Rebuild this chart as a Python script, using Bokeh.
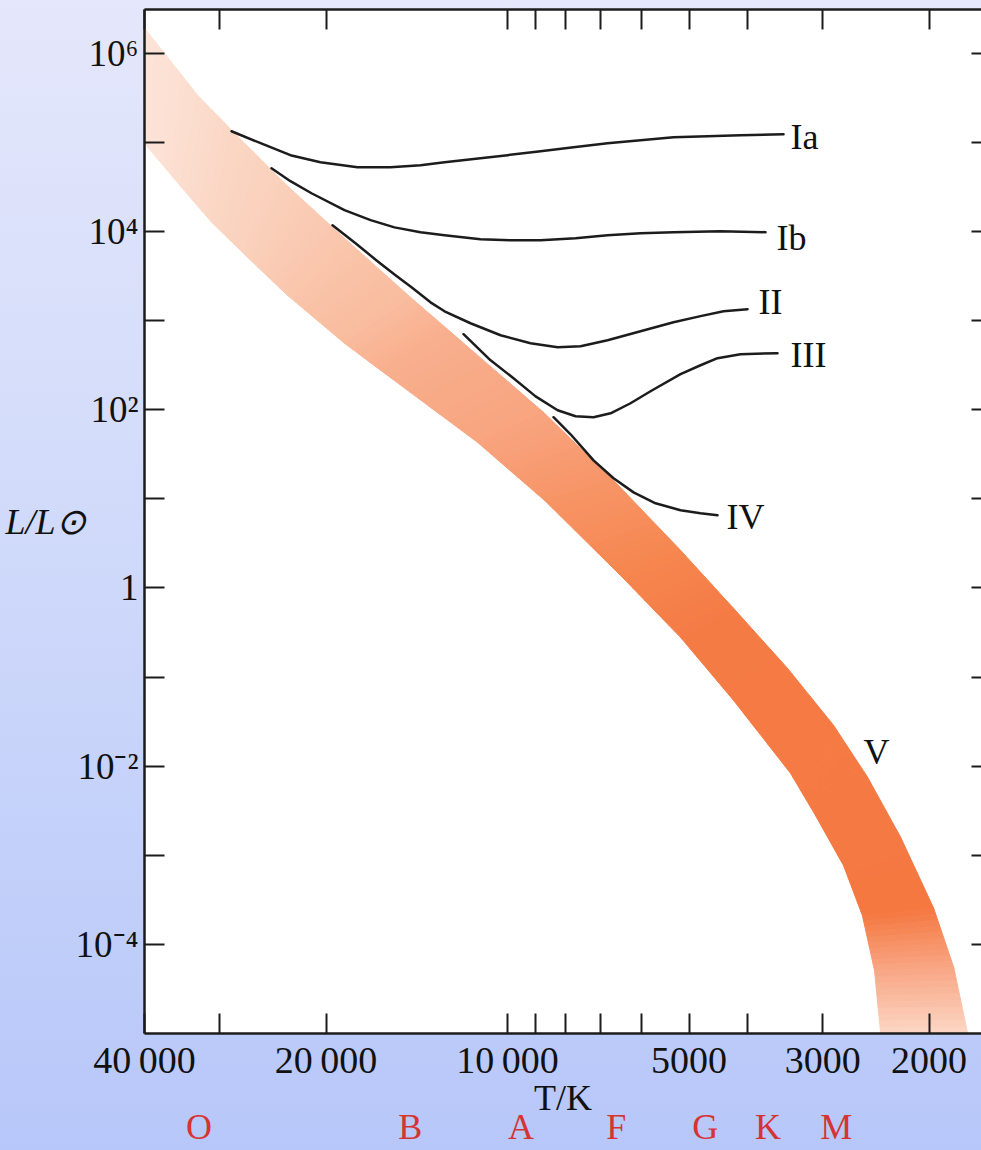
from bokeh.plotting import figure
from bokeh.models import LogAxis, FixedTicker, Label, Range1d, GlobalInlineStyleSheet
from bokeh.embed import file_html
from bokeh.resources import INLINE

# ---------------- data ----------------
# Main sequence (class V) band: cross-sections, upper and lower edge
band_upper_T = [40000, 32670, 28690, 23430, 18640, 14430, 12580, 8720, 6672, 5166,
                4220, 3433, 2880, 2529, 2229, 1965, 1820, 1726]
band_upper_L = [1.91e6, 3.38e5, 1.37e5, 3.48e4, 8.39e3, 1.78e3, 798, 93.5, 16.1, 2.64,
                0.59, 0.125, 0.0287, 0.0075, 0.00159, 2.54e-4, 5.5e-5, 1.0e-5]
band_lower_T = [40000, 34860, 30960, 26680, 23170, 18640, 16240, 11220, 8685, 6495,
                5166, 4220, 3393, 3086, 2773, 2579, 2463, 2406]
band_lower_L = [9.77e4, 3.22e4, 1.27e4, 4.75e3, 1.92e3, 556, 277, 43.1, 9.62, 1.38,
                0.279, 0.0548, 0.0083, 0.0028, 7.7e-4, 2.1e-4, 5.1e-5, 1.0e-5]

# Luminosity classes
Ia_T = [28690, 25680, 22910, 20430, 17740, 15640, 13940, 12720, 11090, 10000, 8815,
        7772, 6826, 6018, 5306, 4660, 4109, 3486]
Ia_L = [1.33e5, 9.77e4, 7.17e4, 5.98e4, 5.25e4, 5.25e4, 5.53e4, 5.98e4, 6.63e4, 7.17e4,
        7.95e4, 8.81e4, 9.77e4, 1.056e5, 1.14e5, 1.17e5, 1.20e5, 1.23e5]

Ib_T = [24630, 22910, 21140, 18640, 16870, 15400, 13940, 12720, 11090, 9890, 8815,
        7713, 6826, 6018, 5306, 4435, 3734]
Ib_L = [5.12e4, 3.66e4, 2.68e4, 1.73e4, 1.34e4, 1.11e4, 9.8e3, 9.07e3, 8.17e3, 7.96e3,
        7.96e3, 8.39e3, 9.07e3, 9.55e3, 9.8e3, 1.005e4, 9.8e3]

II_T = [19510, 17870, 16430, 15340, 14430, 13420, 12720, 11520, 10270, 9160, 8260,
        7568, 6826, 6018, 5306, 4786, 4384, 4000]
II_L = [1.17e4, 7.37e3, 4.63e3, 3.22e3, 2.36e3, 1.60e3, 1.27e3, 932, 684, 556, 502,
        515, 601, 758, 957, 1.12e3, 1.27e3, 1.34e3]

III_T = [11830, 10670, 9775, 8985, 8260, 7713, 7201, 6748, 6253, 5793, 5166, 4786,
         4486, 4109, 3567]
III_L = [702, 358, 225, 141, 98.5, 84.3, 82.2, 91.1, 118, 161, 250, 315, 378, 419, 430]

IV_T = [8390, 7862, 7201, 6672, 6181, 5683, 5166, 4786, 4486]
IV_L = [82.2, 52.9, 27.0, 17.0, 11.8, 8.9, 7.43, 6.87, 6.53]

# Axes
x_ticks = [40000, 30000, 20000, 10000, 9000, 8000, 7000, 6000, 5000, 4000, 3000, 2000]
x_labeled = [40000, 20000, 10000, 5000, 3000, 2000]
x_label_text = ["40\u2009000", "20\u2009000", "10\u2009000", "5000", "3000", "2000"]

y_ticks = [1000000, 100000, 10000, 1000, 100, 10, 1, 0.1, 0.01, 0.001, 0.0001]
y_labeled = [1000000, 10000, 100, 1, 0.01, 0.0001]
y_label_text = ["10\u2076", "10\u2074", "10\u00b2", "1", "10\u207b\u00b2", "10\u207b\u2074"]

spectral_class = ["O", "B", "A", "F", "G", "K", "M"]
spectral_T = [32500, 14500, 9500, 6600, 4700, 3700, 2850]

# ---------------- style ----------------
SERIF = "Liberation Serif"
INK = "#1c1c1c"
TXT = "#111111"

p = figure(width=981, height=1150, x_axis_type="log", y_axis_type="log",
           x_range=Range1d(40000, 1637), y_range=Range1d(1e-5, 3.09e6),
           output_backend="svg", toolbar_location=None,
           min_border_left=144, min_border_right=0, min_border_top=9,
           min_border_bottom=117)
p.grid.visible = False
p.outline_line_color = None
p.background_fill_color = "white"
p.border_fill_color = None
p.stylesheets = [GlobalInlineStyleSheet(css=(
    "html{min-height:100%;background:linear-gradient(180deg,#e5e7fb 0%,"
    "#d3dcfa 40%,#b7c7f9 100%);}"))]

# colour ramp along the band
stops = [(0, "#fce4d8"), (3, "#fad0bb"), (5, "#f9bb9d"), (7, "#f8a47f"),
         (9, "#f6864f"), (10, "#f57b45"), (15, "#f57841"), (16, "#f8a684"),
         (17, "#fcd6c4")]


def _rgb(h):
    return [int(h[i:i + 2], 16) for i in (1, 3, 5)]


def color_at(s):
    for (s0, c0), (s1, c1) in zip(stops[:-1], stops[1:]):
        if s0 <= s <= s1:
            t = (s - s0) / (s1 - s0)
            a, b = _rgb(c0), _rgb(c1)
            return "#%02x%02x%02x" % tuple(round(a[k] + (b[k] - a[k]) * t) for k in range(3))
    return stops[-1][1]


def along(a, b, t):
    # point at fraction t along the straight (screen) edge between a and b on log axes
    return a * (b / a) ** t


# the band polygon is painted in thin strips so that its fill can carry a gradient
NSUB = 10
xs, ys, cols = [], [], []
for i in range(len(band_upper_T) - 1):
    for k in range(NSUB):
        t0, t1 = k / NSUB, (k + 1) / NSUB
        xs.append([along(band_upper_T[i], band_upper_T[i + 1], t0),
                   along(band_upper_T[i], band_upper_T[i + 1], t1),
                   along(band_lower_T[i], band_lower_T[i + 1], t1),
                   along(band_lower_T[i], band_lower_T[i + 1], t0)])
        ys.append([along(band_upper_L[i], band_upper_L[i + 1], t0),
                   along(band_upper_L[i], band_upper_L[i + 1], t1),
                   along(band_lower_L[i], band_lower_L[i + 1], t1),
                   along(band_lower_L[i], band_lower_L[i + 1], t0)])
        cols.append(color_at(i + (k + 0.5) / NSUB))
p.patches(xs, ys, fill_color=cols, line_color=cols, line_width=1)

for T, L in [(Ia_T, Ia_L), (Ib_T, Ib_L), (II_T, II_L), (III_T, III_L), (IV_T, IV_L)]:
    p.line(T, L, line_color=INK, line_width=2.5, line_join="round", line_cap="round")

# class labels
for name, T, L, dx, dy in [("Ia", Ia_T, Ia_L, 7, -3), ("Ib", Ib_T, Ib_L, 11, -6),
                           ("II", II_T, II_L, 11, 7), ("III", III_T, III_L, 13, -2),
                           ("IV", IV_T, IV_L, 9, -2)]:
    p.add_layout(Label(x=T[-1], y=L[-1], text=name, x_offset=dx, y_offset=dy,
                       text_align="left", text_baseline="middle", text_font=SERIF,
                       text_font_size="36px", text_color=TXT))
p.add_layout(Label(x=2570, y=0.0143, text="V", text_align="left", text_baseline="middle",
                   text_font=SERIF, text_font_size="36px", text_color=TXT))


def style_axis(ax, tick_in):
    ax.axis_line_color = INK
    ax.axis_line_width = 2.5
    ax.major_tick_line_color = INK
    ax.major_tick_line_width = 2
    ax.major_tick_in = tick_in
    ax.major_tick_out = 0
    ax.minor_tick_in = 0
    ax.minor_tick_out = 0
    ax.minor_tick_line_color = None
    ax.major_label_text_font = SERIF
    ax.major_label_text_color = TXT


xb = p.xaxis[0]
xb.ticker = FixedTicker(ticks=x_ticks, minor_ticks=[])
xlab = dict(zip(x_labeled, x_label_text))
xb.major_label_overrides = {t: xlab.get(t, "") for t in x_ticks}
style_axis(xb, 20)
xb.major_label_text_font_size = "38px"
xb.major_label_standoff = 5
xb.axis_label = "T/K"
xb.axis_label_text_font = SERIF
xb.axis_label_text_font_style = "normal"
xb.axis_label_text_font_size = "36px"
xb.axis_label_text_color = TXT
xb.axis_label_standoff = -6

yl = p.yaxis[0]
yl.ticker = FixedTicker(ticks=y_ticks, minor_ticks=[])
ylab = dict(zip(y_labeled, y_label_text))
yl.major_label_overrides = {t: ylab.get(t, "") for t in y_ticks}
style_axis(yl, 20)
yl.major_label_text_font_size = "37px"
yl.major_label_standoff = 6
yl.axis_label = "L/L\u2299"
yl.axis_label_orientation = "horizontal"
yl.axis_label_text_font = SERIF
yl.axis_label_text_font_style = "italic"
yl.axis_label_text_font_size = "36px"
yl.axis_label_text_color = TXT
yl.axis_label_standoff = -13

top = LogAxis(ticker=FixedTicker(ticks=x_ticks, minor_ticks=[]))
style_axis(top, 20)
top.major_label_overrides = {t: "" for t in x_ticks}
top.major_label_text_font_size = "0px"
top.major_label_standoff = 0
p.add_layout(top, "above")

right = LogAxis(ticker=FixedTicker(ticks=y_ticks, minor_ticks=[]))
style_axis(right, 10)
right.axis_line_color = None
right.major_label_overrides = {t: "" for t in y_ticks}
right.major_label_text_font_size = "0px"
right.major_label_standoff = 0
p.add_layout(right, "right")

spec = LogAxis(ticker=FixedTicker(ticks=spectral_T, minor_ticks=[]))
spec.major_label_overrides = dict(zip(spectral_T, spectral_class))
spec.axis_line_color = None
spec.major_tick_line_color = None
spec.minor_tick_line_color = None
spec.major_tick_in = 0
spec.major_tick_out = 0
spec.major_label_text_font = SERIF
spec.major_label_text_font_size = "36px"
spec.major_label_text_color = "#d63333"
spec.major_label_standoff = -14
p.add_layout(spec, "below")

open("out.html", "w").write(file_html(p, INLINE))
